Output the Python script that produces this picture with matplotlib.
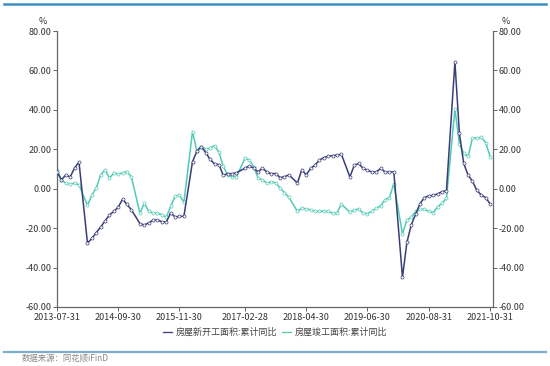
import matplotlib
matplotlib.use("Agg")
import matplotlib.pyplot as plt
import matplotlib.dates as mdates
import pandas as pd
from matplotlib.lines import Line2D

plt.rcParams['font.family'] = ['Noto Sans CJK SC', 'DejaVu Sans']

# monthly periods (January merged into Jan-Feb, so no January points)
periods = (["2013-%02d" % m for m in range(7, 13)] +
           ["%d-%02d" % (y, m) for y in range(2014, 2021) for m in range(2, 13)] +
           ["2021-%02d" % m for m in range(2, 11)])

new_start = [
    8.5, 4.5, 7.0, 6.0, 10.5, 13.5,                                   # 2013
    -27.6, -25.2, -22.3, -19.4, -16.4, -13.3, -11.5, -9.3, -5.3, -8.0, -10.7,  # 2014
    -17.7, -18.4, -17.3, -16.0, -15.8, -16.8, -16.8, -12.3, -14.3, -14.0, -14.0,  # 2015
    13.7, 19.2, 21.4, 18.3, 14.9, 12.6, 12.2, 6.8, 7.7, 7.6, 8.1,     # 2016
    10.4, 11.6, 10.4, 8.5, 10.6, 8.4, 7.6, 7.7, 5.6, 6.1, 7.0,        # 2017
    2.9, 9.7, 7.0, 10.3, 12.0, 14.5, 15.8, 16.5, 16.8, 17.0, 17.5,    # 2018
    6.0, 11.9, 12.8, 10.3, 9.4, 8.5, 8.5, 10.3, 8.5, 8.5, 8.5,        # 2019
    -44.9, -27.2, -18.4, -12.8, -7.6, -4.5, -3.6, -3.4, -2.6, -1.5, -1.0,  # 2020
    64.3, 28.2, 12.8, 6.9, 3.8, -0.9, -3.2, -4.5, -7.7,               # 2021
]

completed = [
    9.6, 4.5, 2.8, 2.3, 2.8, 2.0,                                     # 2013
    -8.5, -3.1, 0.3, 7.0, 9.6, 5.4, 7.9, 7.5, 8.0, 8.7, 5.9,          # 2014
    -12.4, -7.3, -11.5, -12.4, -12.4, -13.2, -14.4, -8.9, -3.9, -3.1, -6.9,  # 2015
    29.0, 18.9, 21.4, 20.1, 20.5, 21.9, 18.5, 11.3, 7.0, 6.1, 6.1,    # 2016
    15.4, 14.5, 11.1, 5.3, 4.5, 2.8, 3.6, 3.0, 0.3, -2.0, -4.4,       # 2017
    -11.5, -9.8, -10.3, -10.7, -11.5, -11.5, -11.5, -11.5, -12.4, -12.4, -7.8,  # 2018
    -11.9, -10.8, -10.3, -12.4, -12.7, -11.3, -10.0, -8.6, -5.5, -4.5, 2.6,  # 2019
    -22.9, -15.8, -14.5, -11.5, -10.5, -10.5, -11.4, -12.1, -9.2, -7.3, -4.9,  # 2020
    40.4, 22.9, 17.9, 16.4, 25.7, 25.7, 26.0, 23.4, 16.3,             # 2021
]

series_names = ["房屋新开工面积:累计同比", "房屋竣工面积:累计同比"]
x_ticks = ["2013-07-31", "2014-09-30", "2015-11-30", "2017-02-28",
           "2018-04-30", "2019-06-30", "2020-08-31", "2021-10-31"]
y_ticks = [80, 60, 40, 20, 0, -20, -40, -60]

dates = pd.to_datetime(periods) + pd.offsets.MonthEnd(0)

fig = plt.figure(figsize=(5.5, 3.66), dpi=100)
ax = fig.add_axes([57/550, 1-307/366, (493-57)/550, (307-31)/366])

c_dark = "#3b3d78"
c_teal = "#52cbb5"
ax.plot(dates, new_start, color=c_dark, lw=1.1, marker='o', ms=2.2,
        mfc='white', mec=c_dark, mew=0.5, label=series_names[0], zorder=3)
ax.plot(dates, completed, color=c_teal, lw=1.1, marker='o', ms=2.2,
        mfc='white', mec=c_teal, mew=0.5, label=series_names[1], zorder=2)

ax.set_ylim(-60, 80)
ax.set_xlim(pd.Timestamp("2013-07-31"), pd.Timestamp("2021-11-20"))
ax.set_yticks(y_ticks)
ax.set_yticklabels(["%.2f" % v for v in y_ticks])
ax.set_xticks(pd.to_datetime(x_ticks))
ax.set_xticklabels(x_ticks)

ax2 = ax.twinx()
ax2.set_ylim(-60, 80)
ax2.set_yticks(y_ticks)
ax2.set_yticklabels(["%.2f" % v for v in y_ticks])

for a in (ax, ax2):
    a.spines['top'].set_visible(False)
    for s in ('left', 'right', 'bottom'):
        a.spines[s].set_color('#666666')
        a.spines[s].set_linewidth(0.9)
    a.tick_params(axis='both', colors='#666666', labelcolor='#333333',
                  labelsize=6.5, length=3, width=0.7, pad=1)
ax.spines['right'].set_visible(False)
ax2.spines['left'].set_visible(False)
ax2.spines['bottom'].set_visible(False)

fig.text(43/550, 1-21/366, "%", fontsize=6.5, color='#333333', ha='center', va='center')
fig.text(506/550, 1-21/366, "%", fontsize=6.5, color='#333333', ha='center', va='center')

leg = fig.legend(loc='center', bbox_to_anchor=(275/550, 1-332/366), ncol=2,
                 frameon=False, fontsize=6.5, handlelength=1.0, handletextpad=0.4,
                 columnspacing=0.6, labelcolor='#444444')
for h in leg.get_lines():
    h.set_marker('')
    h.set_linewidth(0.9)

fig.add_artist(Line2D([4/550, 546/550], [1-4/366, 1-4/366], color='#3d8fc2', lw=1.8))
fig.add_artist(Line2D([4/550, 546/550], [1-352/366, 1-352/366], color='#7aaecb', lw=1.6))
fig.text(22/550, 1-358/366, "数据来源：同花顺iFinD", fontsize=6, color='#888888',
         ha='left', va='center')

fig.savefig("out.png", dpi=100)
